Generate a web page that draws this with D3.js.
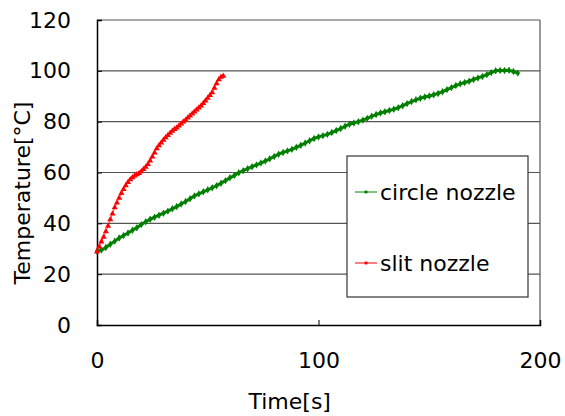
<!DOCTYPE html>
<html>
<head>
<meta charset="utf-8">
<script src="https://cdn.jsdelivr.net/npm/d3@7"></script>
<style>
  body { margin: 0; background: #fff; }
  text { font-family: "DejaVu Sans", sans-serif; fill: #000; }
</style>
</head>
<body>
<div id="chart"></div>
<script>
// series values
var circleTime = d3.range(0, 191, 2);
var circleTemp = [29.0, 29.5, 30.5, 31.8, 33.0, 34.2, 35.2, 36.2, 37.3, 38.3,
    39.5, 40.6, 41.6, 42.4, 43.2, 44.0, 44.8, 45.7, 46.6, 47.6,
    48.6, 49.7, 50.8, 51.6, 52.4, 53.2, 54.0, 54.8, 55.8, 56.8,
    57.9, 58.8, 59.9, 60.7, 61.5, 62.3, 63.0, 63.7, 64.5, 65.4,
    66.3, 67.2, 67.9, 68.5, 69.1, 69.9, 70.7, 71.6, 72.5, 73.4,
    74.0, 74.5, 75.0, 75.7, 76.5, 77.3, 78.2, 79.0, 79.5, 80.0,
    80.6, 81.3, 82.1, 82.8, 83.4, 83.9, 84.4, 84.9, 85.5, 86.3,
    87.1, 87.9, 88.6, 89.2, 89.7, 90.1, 90.6, 91.1, 91.8, 92.6,
    93.4, 94.2, 94.9, 95.4, 95.9, 96.6, 97.2, 97.8, 98.5, 99.3,
    100.0, 100.1, 100.1, 100.2, 99.7, 99.1];

var slitTime = d3.range(0, 58, 1);
var slitTemp = [28.8, 30.8, 32.8, 34.6, 36.8, 39.0, 41.5, 43.8, 46.2, 48.1,
    50.0, 51.8, 53.4, 54.9, 56.2, 57.2, 58.0, 58.7, 59.2, 59.7,
    60.4, 61.3, 62.2, 63.2, 64.6, 66.2, 67.8, 69.4, 70.6, 71.7,
    72.8, 73.8, 74.7, 75.5, 76.3, 77.0, 77.6, 78.4, 79.2, 80.0,
    80.7, 81.5, 82.3, 83.1, 83.9, 84.7, 85.5, 86.3, 87.2, 88.2,
    89.3, 90.4, 91.5, 93.2, 95.0, 96.6, 97.6, 98.0];

var xTicks = [0, 100, 200];
var yTicks = [0, 20, 40, 60, 80, 100, 120];
var seriesNames = ["circle nozzle", "slit nozzle"];

var W = 565, H = 416;
var margin = { top: 20, right: 25, bottom: 91, left: 97 };
var width = W - margin.left - margin.right,
    height = H - margin.top - margin.bottom;

var svg = d3.select("#chart").append("svg")
    .attr("width", W)
    .attr("height", H);

var g = svg.append("g")
    .attr("transform", "translate(" + margin.left + "," + margin.top + ")");

var x = d3.scaleLinear().domain([0, 200]).range([0, width]);
var y = d3.scaleLinear().domain([0, 120]).range([height, 0]);

// grid lines
g.selectAll(".grid").data(yTicks.filter(d => d > 0))
    .enter().append("line")
    .attr("x1", 0).attr("x2", width)
    .attr("y1", d => y(d)).attr("y2", d => y(d))
    .attr("stroke", "#555").attr("stroke-width", 1.2);

// right border
g.append("line")
    .attr("x1", width).attr("x2", width)
    .attr("y1", 0).attr("y2", height)
    .attr("stroke", "#555").attr("stroke-width", 1.2);

// axes
var yAxis = d3.axisLeft(y).tickValues(yTicks).tickSize(-5).tickPadding(26);
var xAxis = d3.axisBottom(x).tickValues(xTicks).tickSize(-5).tickPadding(27);

var yAxisG = g.append("g").call(yAxis);
var xAxisG = g.append("g").attr("transform", "translate(0," + height + ")").call(xAxis);

[yAxisG, xAxisG].forEach(function (a) {
    a.select(".domain").attr("stroke", "#000").attr("stroke-width", 1.5);
    a.selectAll(".tick line").attr("stroke", "#000");
    a.selectAll(".tick text").style("font-size", "22px")
        .style("font-family", "DejaVu Sans").attr("fill", "#000");
});

// axis labels
svg.append("text")
    .attr("x", margin.left + x(87))
    .attr("y", 409)
    .attr("text-anchor", "middle")
    .style("font-size", "22px")
    .text("Time[s]");

svg.append("text")
    .attr("transform", "translate(30," + 193 + ") rotate(-90)")
    .attr("text-anchor", "middle")
    .style("font-size", "22px")
    .text("Temperature[\u00b0C]");

var line = d3.line().x(d => x(d[0])).y(d => y(d[1]));

var circleData = circleTime.map((t, i) => [t, circleTemp[i]]);
var slitData = slitTime.map((t, i) => [t, slitTemp[i]]);

// circle nozzle
g.append("path").datum(circleData)
    .attr("d", line)
    .attr("fill", "none")
    .attr("stroke", "#008000")
    .attr("stroke-width", 3);

var diamond = d3.symbol().type(d3.symbolDiamond).size(16);
g.selectAll(".cpt").data(circleData)
    .enter().append("path")
    .attr("d", diamond)
    .attr("transform", d => "translate(" + x(d[0]) + "," + y(d[1]) + ")")
    .attr("fill", "#008000");

// slit nozzle
g.append("path").datum(slitData)
    .attr("d", line)
    .attr("fill", "none")
    .attr("stroke", "#ff0000")
    .attr("stroke-width", 0.8);

var tri = d3.symbol().type(d3.symbolTriangle).size(16);
g.selectAll(".spt").data(slitData)
    .enter().append("path")
    .attr("d", tri)
    .attr("transform", d => "translate(" + x(d[0]) + "," + y(d[1]) + ")")
    .attr("fill", "#ff0000");

// legend
var legend = svg.append("g").attr("transform", "translate(347,156)");
legend.append("rect")
    .attr("width", 181).attr("height", 141)
    .attr("fill", "#fff")
    .attr("stroke", "#333").attr("stroke-width", 1.2);

var colors = ["#008000", "#ff0000"];
seriesNames.forEach(function (name, i) {
    var ly = 36 + i * 71;
    legend.append("line")
        .attr("x1", 8).attr("x2", 30)
        .attr("y1", ly).attr("y2", ly)
        .attr("stroke", colors[i]).attr("stroke-width", 1);
    legend.append("path")
        .attr("d", d3.symbol().type(d3.symbolSquare).size(8))
        .attr("transform", "translate(19," + ly + ")")
        .attr("fill", colors[i]);
    legend.append("text")
        .attr("x", 33).attr("y", ly + 8)
        .style("font-size", "22px")
        .text(name);
});
</script>
</body>
</html>
